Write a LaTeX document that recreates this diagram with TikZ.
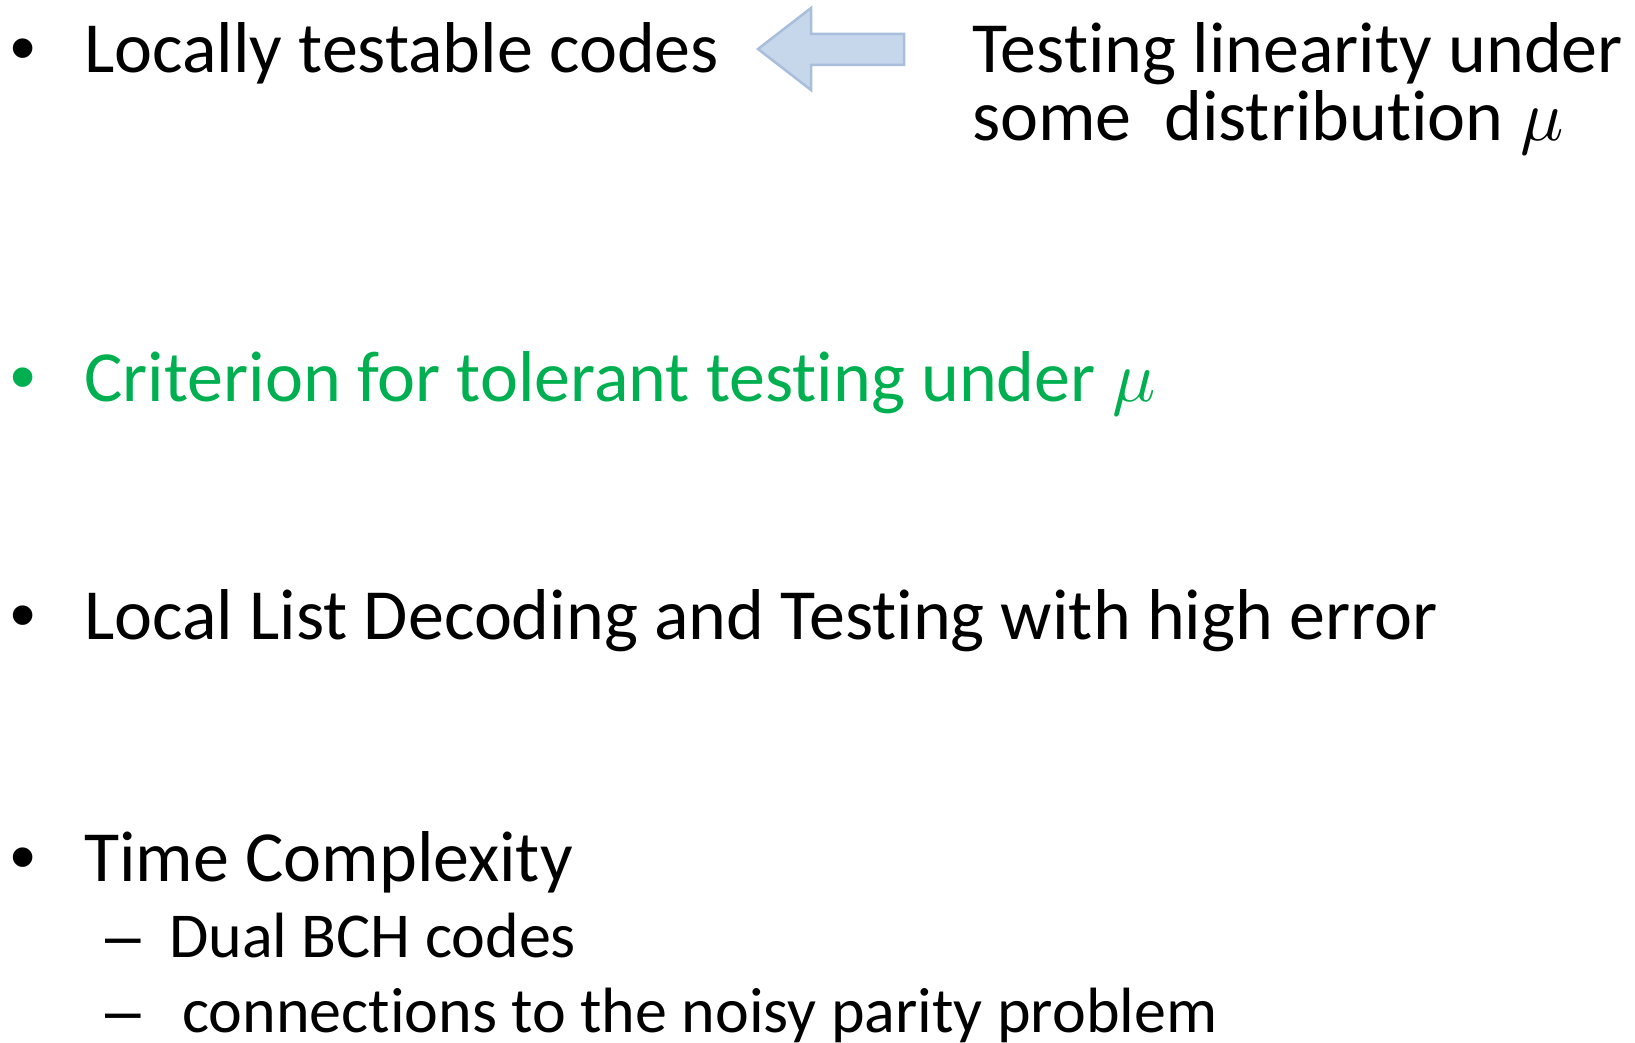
\documentclass[tikz,border=0pt]{standalone}
\usepackage{fontspec}
\setmainfont{Carlito}[Ligatures=NoCommon]
\newfontfamily\bulletfont{Liberation Sans}
\DeclareFontShape{OML}{cmm}{m}{it}{<->cmmi10}{}
\definecolor{pptgreen}{HTML}{00B050}
\definecolor{arrowfill}{HTML}{C6D7EC}
\definecolor{arrowline}{HTML}{A9BEDA}
\begin{document}
\begin{tikzpicture}[x=1pt,y=-1pt,
  big/.style={anchor=base west,inner sep=0pt,font=\fontsize{72}{86}\selectfont},
  small/.style={anchor=base west,inner sep=0pt,font=\fontsize{64}{77}\selectfont},
  bul/.style={anchor=base west,inner sep=0pt,font=\bulletfont\fontsize{72}{86}\selectfont},
  dsh/.style={anchor=base west,inner sep=0pt,font=\bulletfont\fontsize{64}{77}\selectfont}]
\useasboundingbox (0,0) rectangle (1635,1043);
\fill[white] (0,0) rectangle (1635,1043);
% line 1
\node[bul] (b1) at (10,73) {•};
\node[big] (t1) at (84,73) {Locally testable codes};
\draw[arrowline,fill=arrowfill,line width=2.5pt,line join=miter]
  (758,49) -- (811,8) -- (811,34) -- (904,34) -- (904,65) -- (811,65) -- (811,90) -- cycle;
\node[big] (r1) at (972,73) {Testing linearity under};
\node[big] (r2) at (972,141) {some\ \ distribution $\mu$};
% line 2
\node[bul,pptgreen] (b2) at (10,401) {•};
\node[big,pptgreen] (t2) at (84,401) {Criterion for tolerant testing under $\mu$};
% line 3
\node[bul] (b3) at (10,639) {•};
\node[big] (t3) at (84,639) {Local List Decoding and Testing with high error};
% line 4
\node[bul] (b4) at (10,881) {•};
\node[big] (t4) at (84,881) {Time Complexity};
\node[dsh] (d1) at (105,957) {–};
\node[small] (s1) at (169,957) {Dual BCH codes};
\node[dsh] (d2) at (105,1032) {–};
\node[small] (s2) at (182,1032) {connections to the noisy parity problem};
\end{tikzpicture}
\end{document}
